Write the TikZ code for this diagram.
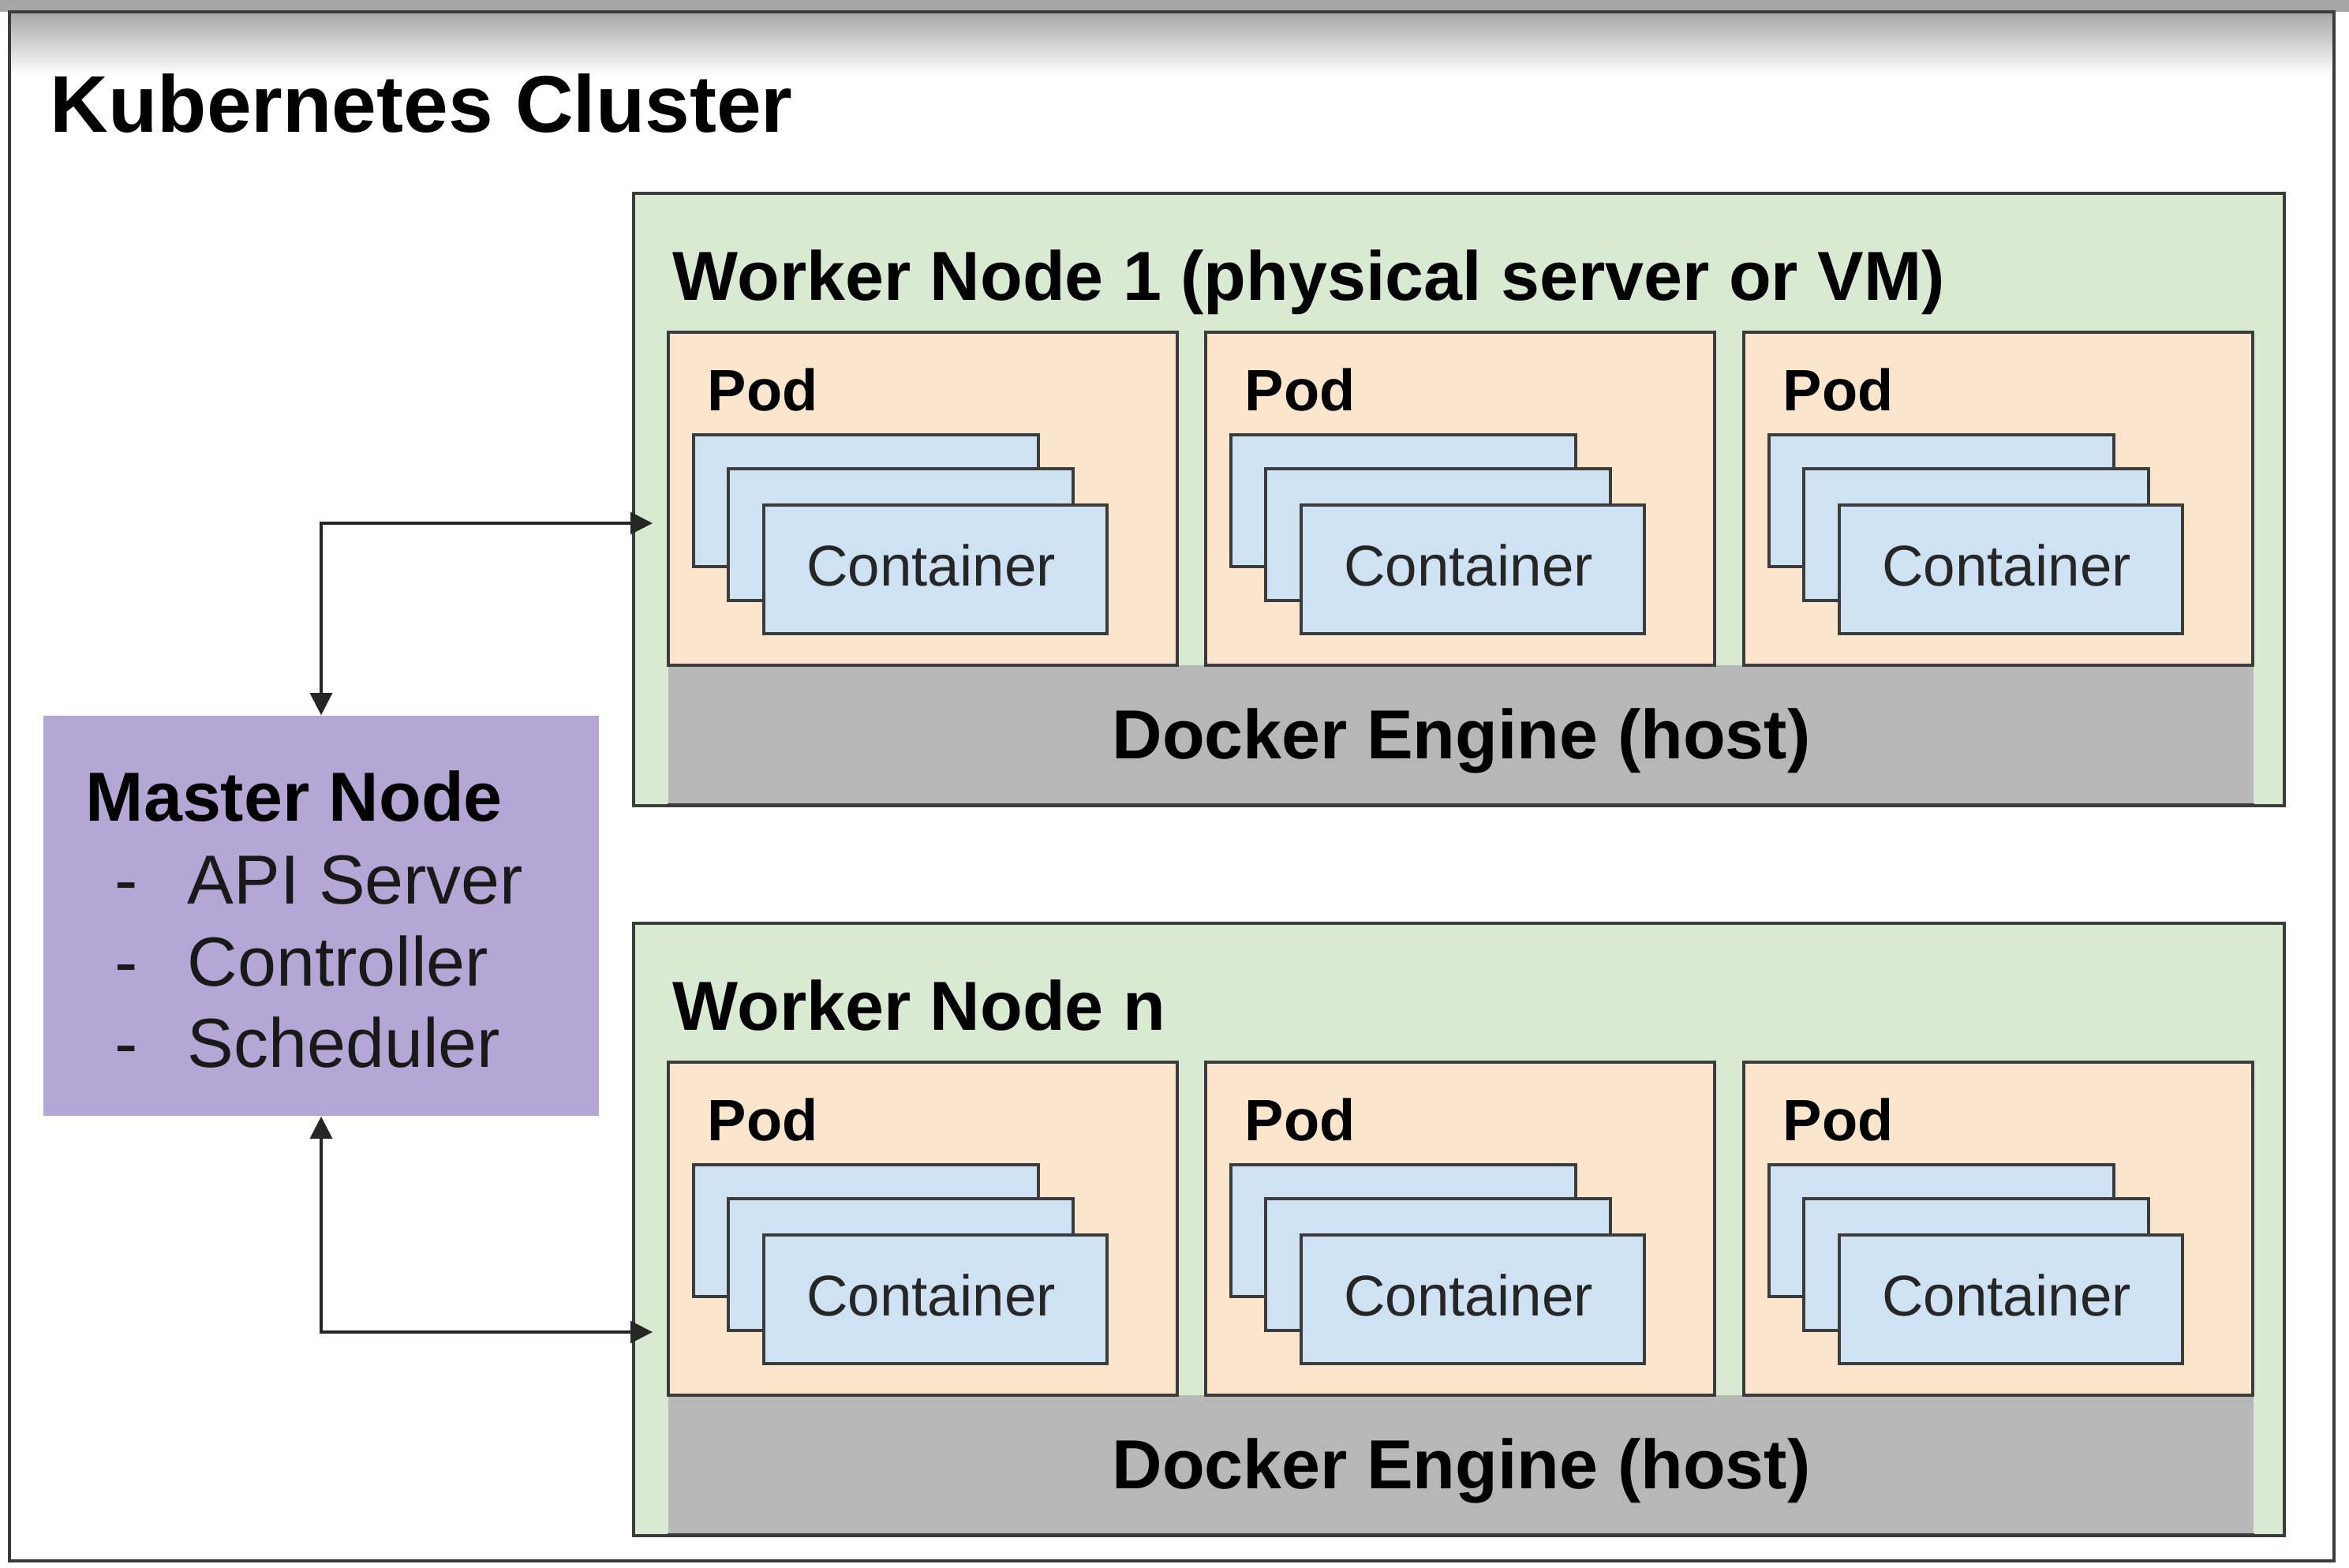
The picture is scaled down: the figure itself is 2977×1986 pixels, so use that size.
\documentclass[tikz,border=0pt]{standalone}
\usepackage{fontspec}
\setmainfont{Liberation Sans}
\usetikzlibrary{fit,arrows.meta}
\definecolor{wgreen}{HTML}{D9EAD3}
\definecolor{podc}{HTML}{FCE5CD}
\definecolor{contc}{HTML}{CFE2F3}
\definecolor{dockc}{HTML}{B7B7B7}
\definecolor{mastc}{HTML}{B4A7D6}
\definecolor{bordc}{HTML}{3C3C3C}
\definecolor{topgray}{HTML}{A6A6A6}
\begin{document}
\begin{tikzpicture}[x=0.25pt,y=-0.25pt,
  box/.style={draw=bordc, line width=1pt, inner sep=0pt},
  wbox/.style={box, fill=wgreen},
  podbox/.style={box, fill=podc},
  cbox/.style={box, fill=contc},
  dockbox/.style={fill=dockc, inner sep=0pt},
  mbox/.style={fill=mastc, inner sep=0pt},
  frame/.style={draw=bordc, line width=1.2pt, inner sep=0pt},
  bigtitle/.style={font=\bfseries\fontsize{25.5pt}{30pt}\selectfont, inner sep=0pt, anchor=base west},
  htitle/.style={font=\bfseries\fontsize{22pt}{26pt}\selectfont, inner sep=0pt},
  podlabel/.style={font=\bfseries\fontsize{18.5pt}{22pt}\selectfont, inner sep=0pt, anchor=base west},
  conttext/.style={font=\fontsize{18.2pt}{22pt}\selectfont, text=black!85, inner sep=0pt, anchor=base},
  itemtext/.style={font=\fontsize{22pt}{26pt}\selectfont, text=black!90, inner sep=0pt, anchor=base west},
  link/.style={draw=black!85, line width=0.8pt, {Triangle[length=7pt,width=7pt]}-{Triangle[length=7pt,width=7pt]}}
]
\useasboundingbox (0,0) rectangle (2977,1986);
% screenshot shadow at top
\fill[topgray] (0,0) rectangle (2977,15);
\shade[top color=topgray, bottom color=white] (12,15) rectangle (2958,95);
% cluster frame
\node[frame, fit={(12,15) (2958,1978)}] (cluster) {};
\node[bigtitle] (ctitle) at (63,167) {Kubernetes Cluster};

% worker nodes
\foreach \w/\dy/\ttl in {1/0/{Worker Node 1 (physical server or VM)}, n/925/{Worker Node n}} {
  \node[wbox, fit={(803,245+\dy) (2895,1021+\dy)}] (w\w) {};
  \node[htitle, anchor=base west] (wt\w) at (852,380+\dy) {\ttl};
  \node[dockbox, fit={(847,843+\dy) (2856,1019+\dy)}] (dock\w) {};
  \node[htitle, anchor=base] (dt\w) at (1852,961+\dy) {Docker Engine (host)};
  \draw[bordc, line width=1pt] (dock\w.south west) -- (dock\w.south east);
  \foreach \p/\px in {1/847, 2/1528, 3/2210} {
    \node[podbox, fit={(\px,421+\dy) (\px+645,843+\dy)}] (pod\w\p) {};
    \node[podlabel] (pl\w\p) at (\px+49,520+\dy) {Pod};
    \node[cbox, fit={(\px+32,551+\dy) (\px+469,718+\dy)}] (ca\w\p) {};
    \node[cbox, fit={(\px+76,594+\dy) (\px+513,761+\dy)}] (cb\w\p) {};
    \node[cbox, fit={(\px+121,640+\dy) (\px+556,803+\dy)}] (cc\w\p) {};
    \node[conttext] (ct\w\p) at (\px+333,742+\dy) {Container};
  }
}

% master node
\node[mbox, fit={(55,907) (759,1414)}] (master) {};
\node[htitle, anchor=base west] (mt) at (108,1040) {Master Node};
\foreach \i/\txt/\yy in {1/API Server/1145, 2/Controller/1249, 3/Scheduler/1352} {
  \node[itemtext] (md\i) at (145,\yy) {-};
  \node[itemtext] (mi\i) at (237,\yy) {\txt};
}

% connectors
\draw[link, shorten >=-6.5pt] (master.north) |- ([yshift=-7.5pt]w1.west);
\draw[link, shorten >=-6.5pt] (master.south) |- ([yshift=-32.5pt]wn.west);
\end{tikzpicture}
\end{document}
